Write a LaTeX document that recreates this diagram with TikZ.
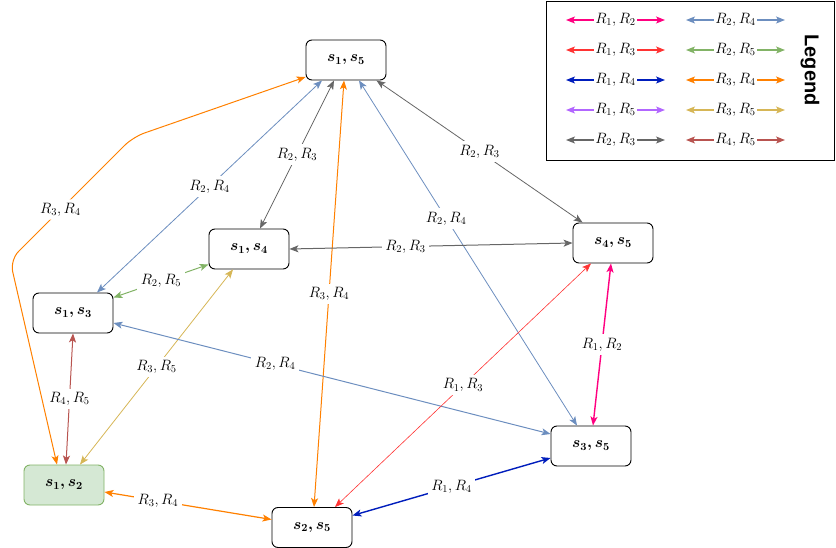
\RequirePackage{fix-cm}
\documentclass[tikz,border=0pt]{standalone}
\usepackage{amsmath}
\usepackage{fontspec}
\newfontfamily\legendfont{Liberation Sans}
\usepackage{tikz}
\usetikzlibrary{calc, arrows.meta}

\definecolor{cRonetwo}{HTML}{FF0080}
\definecolor{cRonethree}{HTML}{FF3333}
\definecolor{cRonefour}{HTML}{001DBC}
\definecolor{cRonefive}{HTML}{B266FF}
\definecolor{cRtwothree}{HTML}{666666}
\definecolor{cRtwofour}{HTML}{6C8EBF}
\definecolor{cRtwofive}{HTML}{82B366}
\definecolor{cRthreefour}{HTML}{FF8000}
\definecolor{cRthreefive}{HTML}{D6B656}
\definecolor{cRfourfive}{HTML}{B85450}
\definecolor{startfill}{HTML}{D5E8D4}

\tikzset{
	state/.style={draw, rounded corners=6pt, minimum width=80pt, minimum height=40pt, line width=0.9pt, font=\fontsize{15.5}{17}\selectfont},
	lbl/.style={fill=white, inner sep=3.5pt, font=\fontsize{15}{17}\selectfont},
	both/.style={{Stealth[length=9pt, width=7pt, inset=2.2pt]}-{Stealth[length=9pt, width=7pt, inset=2.2pt]}},
}

\begin{document}
\begin{tikzpicture}[x=1pt, y=-1pt]
			\useasboundingbox (0, 0) rectangle (836, 548);
			% states
			\node[state] (s15) at (346, 60) {$\boldsymbol{s_1, s_5}$};
			\node[state] (s14) at (249, 249) {$\boldsymbol{s_1, s_4}$};
			\node[state] (s45) at (613, 243) {$\boldsymbol{s_4, s_5}$};
			\node[state] (s13) at (73, 313) {$\boldsymbol{s_1, s_3}$};
			\node[state, draw=cRtwofive, fill=startfill] (s12) at (64, 485) {$\boldsymbol{s_1, s_2}$};
			\node[state] (s25) at (312, 527.5) {$\boldsymbol{s_2, s_5}$};
			\node[state] (s35) at (591, 446) {$\boldsymbol{s_3, s_5}$};
			% transitions
			\draw[both, cRthreefour, line width=1pt, rounded corners=12pt] ([xshift=-7pt]s12.north) -- (10, 260) -- node[lbl, text=black, pos=0.41] {$R_3, R_4$} (133, 137) -- ([yshift=-17pt]s15.west);
			\path[both, cRtwofour, line width=0.8pt] ([xshift=-24pt]s15.south) edge node[lbl, text=black] {$R_2, R_4$} ([xshift=24pt]s13.north);
			\path[both, cRtwothree, line width=0.8pt] ([xshift=-12pt]s15.south) edge node[lbl, text=black] {$R_2, R_3$} ([xshift=11pt]s14.north);
			\path[both, cRthreefour, line width=1pt] ([xshift=-2pt]s15.south) edge node[lbl, text=black] {$R_3, R_4$} ([xshift=2pt]s25.north);
			\path[both, cRtwofour, line width=0.8pt] ([xshift=13pt]s15.south) edge node[lbl, text=black, pos=0.4] {$R_2, R_4$} ([xshift=-14pt]s35.north);
			\path[both, cRtwothree, line width=0.8pt] ([xshift=-10pt]s15.south east) edge node[lbl, text=black] {$R_2, R_3$} ([xshift=10pt]s45.north west);
			\path[both, cRtwothree, line width=1pt] (s14.east) edge node[lbl, text=black, pos=0.41] {$R_2, R_3$} (s45.west);
			\path[both, cRtwofive, line width=1pt] ([yshift=-5pt]s13.north east) edge node[lbl, text=black] {$R_2, R_5$} ([yshift=5pt]s14.south west);
			\path[both, cRthreefive, line width=0.8pt] ([xshift=16pt]s12.north) edge node[lbl, text=black] {$R_3, R_5$} ([xshift=-16pt]s14.south);
			\path[both, cRfourfive, line width=1pt] (s13.south) edge node[lbl, text=black] {$R_4, R_5$} ([xshift=2pt]s12.north);
			\path[both, cRtwofour, line width=1pt] ([yshift=-10pt]s13.east) edge node[lbl, text=black, pos=0.37] {$R_2, R_4$} ([yshift=12pt]s35.west);
			\path[both, cRthreefour, line width=1.2pt] ([yshift=-7pt]s12.east) edge node[lbl, text=black, pos=0.32] {$R_3, R_4$} ([yshift=8pt]s25.west);
			\path[both, cRonethree, line width=0.6pt] ([xshift=23pt]s25.north) edge node[lbl, text=black] {$R_1, R_3$} ([xshift=-22pt]s45.south);
			\path[both, cRonefour, line width=1.4pt] ([yshift=12pt]s25.east) edge node[lbl, text=black] {$R_1, R_4$} ([yshift=-12pt]s35.west);
			\path[both, cRonetwo, line width=1.4pt] ([xshift=-2pt]s45.south) edge node[lbl, text=black] {$R_1, R_2$} ([xshift=2pt]s35.north);
			% legend
			\node[draw, line width=1pt, minimum width=288pt, minimum height=159pt, anchor=north west] (legend) at (546, 1) {};
			\node[font=\legendfont\bfseries\fontsize{20}{22}\selectfont, rotate=-90] (legendtitle) at (810, 70) {Legend};
			\coordinate (la1) at (566, 20); \coordinate (lb1) at (665, 20);
			\coordinate (la2) at (566, 50); \coordinate (lb2) at (665, 50);
			\coordinate (la3) at (566, 80); \coordinate (lb3) at (665, 80);
			\coordinate (la4) at (566, 110); \coordinate (lb4) at (665, 110);
			\coordinate (la5) at (566, 140); \coordinate (lb5) at (665, 140);
			\coordinate (ra1) at (686, 20); \coordinate (rb1) at (785, 20);
			\coordinate (ra2) at (686, 50); \coordinate (rb2) at (785, 50);
			\coordinate (ra3) at (686, 80); \coordinate (rb3) at (785, 80);
			\coordinate (ra4) at (686, 110); \coordinate (rb4) at (785, 110);
			\coordinate (ra5) at (686, 140); \coordinate (rb5) at (785, 140);
			\path[both, cRonetwo, line width=1.2pt] (la1) edge node[lbl, text=black, inner sep=1pt] {$R_1, R_2$} (lb1);
			\path[both, cRonethree, line width=1.2pt] (la2) edge node[lbl, text=black, inner sep=1pt] {$R_1, R_3$} (lb2);
			\path[both, cRonefour, line width=1.2pt] (la3) edge node[lbl, text=black, inner sep=1pt] {$R_1, R_4$} (lb3);
			\path[both, cRonefive, line width=1.2pt] (la4) edge node[lbl, text=black, inner sep=1pt] {$R_1, R_5$} (lb4);
			\path[both, cRtwothree, line width=1.2pt] (la5) edge node[lbl, text=black, inner sep=1pt] {$R_2, R_3$} (lb5);
			\path[both, cRtwofour, line width=1.2pt] (ra1) edge node[lbl, text=black, inner sep=1pt] {$R_2, R_4$} (rb1);
			\path[both, cRtwofive, line width=1.2pt] (ra2) edge node[lbl, text=black, inner sep=1pt] {$R_2, R_5$} (rb2);
			\path[both, cRthreefour, line width=1.2pt] (ra3) edge node[lbl, text=black, inner sep=1pt] {$R_3, R_4$} (rb3);
			\path[both, cRthreefive, line width=1.2pt] (ra4) edge node[lbl, text=black, inner sep=1pt] {$R_3, R_5$} (rb4);
			\path[both, cRfourfive, line width=1.2pt] (ra5) edge node[lbl, text=black, inner sep=1pt] {$R_4, R_5$} (rb5);
		\end{tikzpicture}
\end{document}
